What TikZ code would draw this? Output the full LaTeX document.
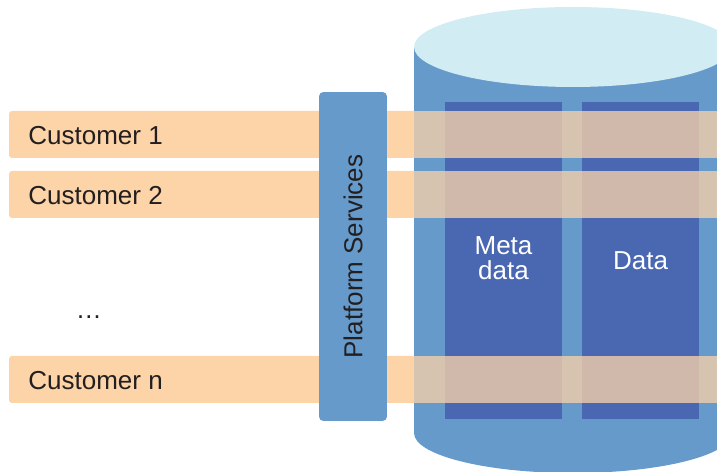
\documentclass[tikz,border=0pt]{standalone}
\usepackage{fontspec}
\setmainfont{Liberation Sans}
\definecolor{cylblue}{RGB}{101,154,203}
\definecolor{cyltop}{RGB}{210,236,243}
\definecolor{colblue}{RGB}{74,104,177}
\definecolor{peach}{RGB}{253,211,168}
\definecolor{txtgray}{RGB}{35,31,32}

\tikzset{
  band/.style={fill=peach, rounded corners=1.7pt},
  datacol/.style={fill=colblue, text=white, align=center, inner sep=0pt,
    minimum width=2.34cm, minimum height=6.34cm},
  platbox/.style={fill=cylblue, rounded corners=2.5pt, text=txtgray, rotate=90,
    minimum width=6.58cm, minimum height=1.36cm},
  custtext/.style={anchor=west, inner sep=0pt, text=txtgray}
}

\begin{document}
\begin{tikzpicture}[x=0.02cm, y=0.02cm, font=\fontsize{14.8}{17}\selectfont]
  \useasboundingbox (0,0) rectangle (717,472);
  \clip (0,0) rectangle (717,472);

  % customer bands
  \foreach \yb in {314, 254, 69} {
    \fill[band] (9,\yb) rectangle (740,\yb+47);
  }

  % database
  \fill[cylblue] (414,425) -- (414,39) arc[start angle=180, end angle=360, x radius=159, y radius=40] -- (732,425) -- cycle;
  \fill[cyltop] (573,425) ellipse [x radius=159, y radius=40];
  \node[datacol, font=\fontsize{14.8}{14.2}\selectfont] (meta) at (503.5,211.5) {\raisebox{3pt}{Meta}\\\raisebox{3pt}{data}};
  \node[datacol] (data) at (640.5,211.5) {\raisebox{-1pt}{Data}};

  % bands seen over the database
  \foreach \yb in {314, 254, 69} {
    \fill[peach, fill opacity=0.75] (414,\yb) rectangle (740,\yb+47);
  }

  \node[platbox] (platform) at (353,215.5) {Platform Services};

  \node[custtext] (c1) at (28,336.5) {Customer 1};
  \node[custtext] (c2) at (28,276.5) {Customer 2};
  \node[custtext] (cn) at (28,91) {Customer n};
  \node[text=txtgray] (dots) at (89,155) {…};
\end{tikzpicture}
\end{document}
